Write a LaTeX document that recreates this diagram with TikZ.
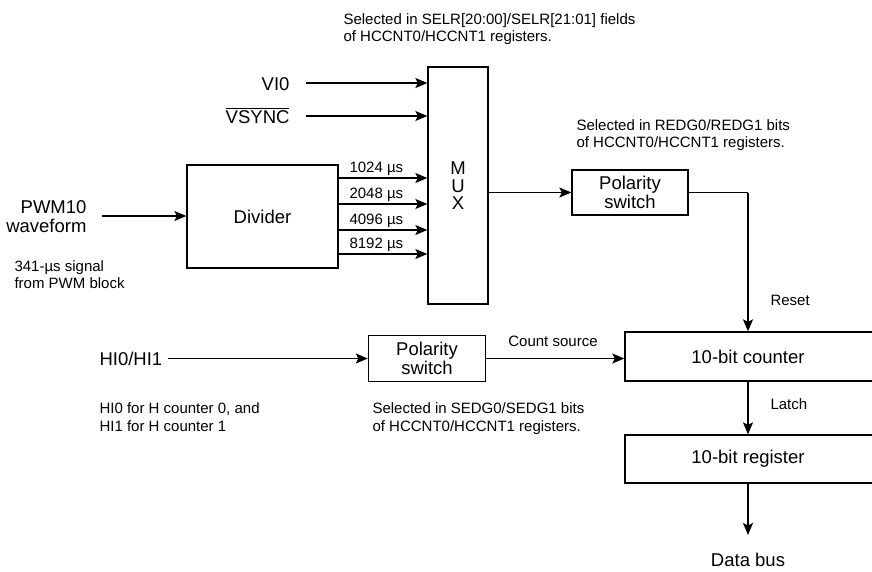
\documentclass[tikz,border=0pt]{standalone}
\usepackage{fontspec}
\setmainfont{Liberation Sans}
\usetikzlibrary{arrows.meta}
\begin{document}
\begin{tikzpicture}[x=1pt,y=-1pt,
  big/.style={font=\fontsize{18.5}{18.5}\selectfont},
  small/.style={font=\fontsize{15}{17.5}\selectfont},
  blk/.style={draw,line width=1.3pt,inner sep=0pt},
  sig/.style={line width=1.3pt,-{Stealth[length=12pt,width=10pt,inset=2.5pt]}},
  wire/.style={line width=1.3pt}]
\useasboundingbox (0,0) rectangle (872,571);
\clip (0,0) rectangle (872,571);
% top note
\node[small,anchor=base west,align=left] (selnote) at (340,41.5) {Selected in SELR[20:00]/SELR[21:01] fields\\of HCCNT0/HCCNT1 registers.};
% MUX
\node[blk,minimum width=60pt,minimum height=237pt] (mux) at (458,185.5) {};
\node[big,align=center] (muxt) at (458,186) {M\\[-1pt]U\\[-1pt]X};
% VI0 / VSYNC
\node[big,anchor=base east] (vi0) at (293,90) {VI0};
\node[big,anchor=base east] (vsync) at (293,123) {$\overline{\hbox{VSYNC}}$};
\coordinate (vi0s) at (306,83);
\coordinate (vsyncs) at (306,116);
\draw[sig] (vi0s) -- (vi0s -| mux.west);
\draw[sig] (vsyncs) -- (vsyncs -| mux.west);
% Divider
\node[blk,big,minimum width=151pt,minimum height=103pt] (div) at (262.5,216.5) {Divider};
\foreach \yy/\lab in {178/1024, 204/2048, 230/4096, 254/8192}{
  \coordinate (d\lab) at (338,\yy);
  \draw[sig] (d\lab) -- (d\lab -| mux.west);
  \node[small,anchor=base west] (l\lab) at (346,\yy-6) {\lab\ µs};
}
% PWM10
\node[big,anchor=base east,align=right] (pwm) at (90,232) {PWM10\\waveform};
\coordinate (pwms) at (102,216);
\draw[sig] (pwms) -- (pwms -| div.west);
\node[small,anchor=base west,align=left] (pwmnote) at (11,288.5) {341-µs signal\\from PWM block};
% Polarity switch 1
\node[blk,big,align=center,minimum width=116pt,minimum height=45pt] (pol1) at (630,192.5) {Polarity\\[0pt]switch};
\node[small,anchor=base west,align=left] (rednote) at (573,147.5) {Selected in REDG0/REDG1 bits\\of HCCNT0/HCCNT1 registers.};
\coordinate (muxo) at (488,192.5);
\draw[sig] (muxo) -- (pol1.west);
% Counter and register
\node[blk,big,minimum width=256pt,minimum height=49pt] (cnt) at (753,356.5) {};
\node[big] (cntt) at (748,356.5) {10-bit counter};
\node[blk,big,minimum width=256pt,minimum height=48pt] (reg) at (753,459) {};
\node[big] (regt) at (748,459) {10-bit register};
\coordinate (pcorner) at (748,192.5);
\draw[wire] (pol1.east) -- (pcorner);
\draw[sig] (pcorner) -- (pcorner |- cnt.north);
\node[small,anchor=base west] (reset) at (767,305) {Reset};
\coordinate (lat) at (748,381);
\draw[sig] (lat) -- (lat |- reg.north);
\node[small,anchor=base west] (latch) at (767,409) {Latch};
\coordinate (dbs) at (748,483);
\coordinate (dbe) at (748,535);
\draw[sig] (dbs) -- (dbe);
\node[big,anchor=base] (dbus) at (748,566) {Data bus};
% HI row
\node[big,anchor=base west] (hi) at (96,365) {HI0/HI1};
\node[blk,big,align=center,minimum width=117pt,minimum height=46pt] (pol2) at (427,358.5) {Polarity\\[0pt]switch};
\coordinate (his) at (168,358.5);
\draw[sig] (his) -- (pol2.west);
\draw[sig] (pol2.east) -- (pol2.east -| cnt.west);
\node[small,anchor=base] (csrc) at (553,346) {Count source};
\node[small,anchor=base west,align=left] (hinote) at (96,431) {HI0 for H counter 0, and\\HI1 for H counter 1};
\node[small,anchor=base west,align=left] (sednote) at (369,431) {Selected in SEDG0/SEDG1 bits\\of HCCNT0/HCCNT1 registers.};
\end{tikzpicture}
\end{document}
